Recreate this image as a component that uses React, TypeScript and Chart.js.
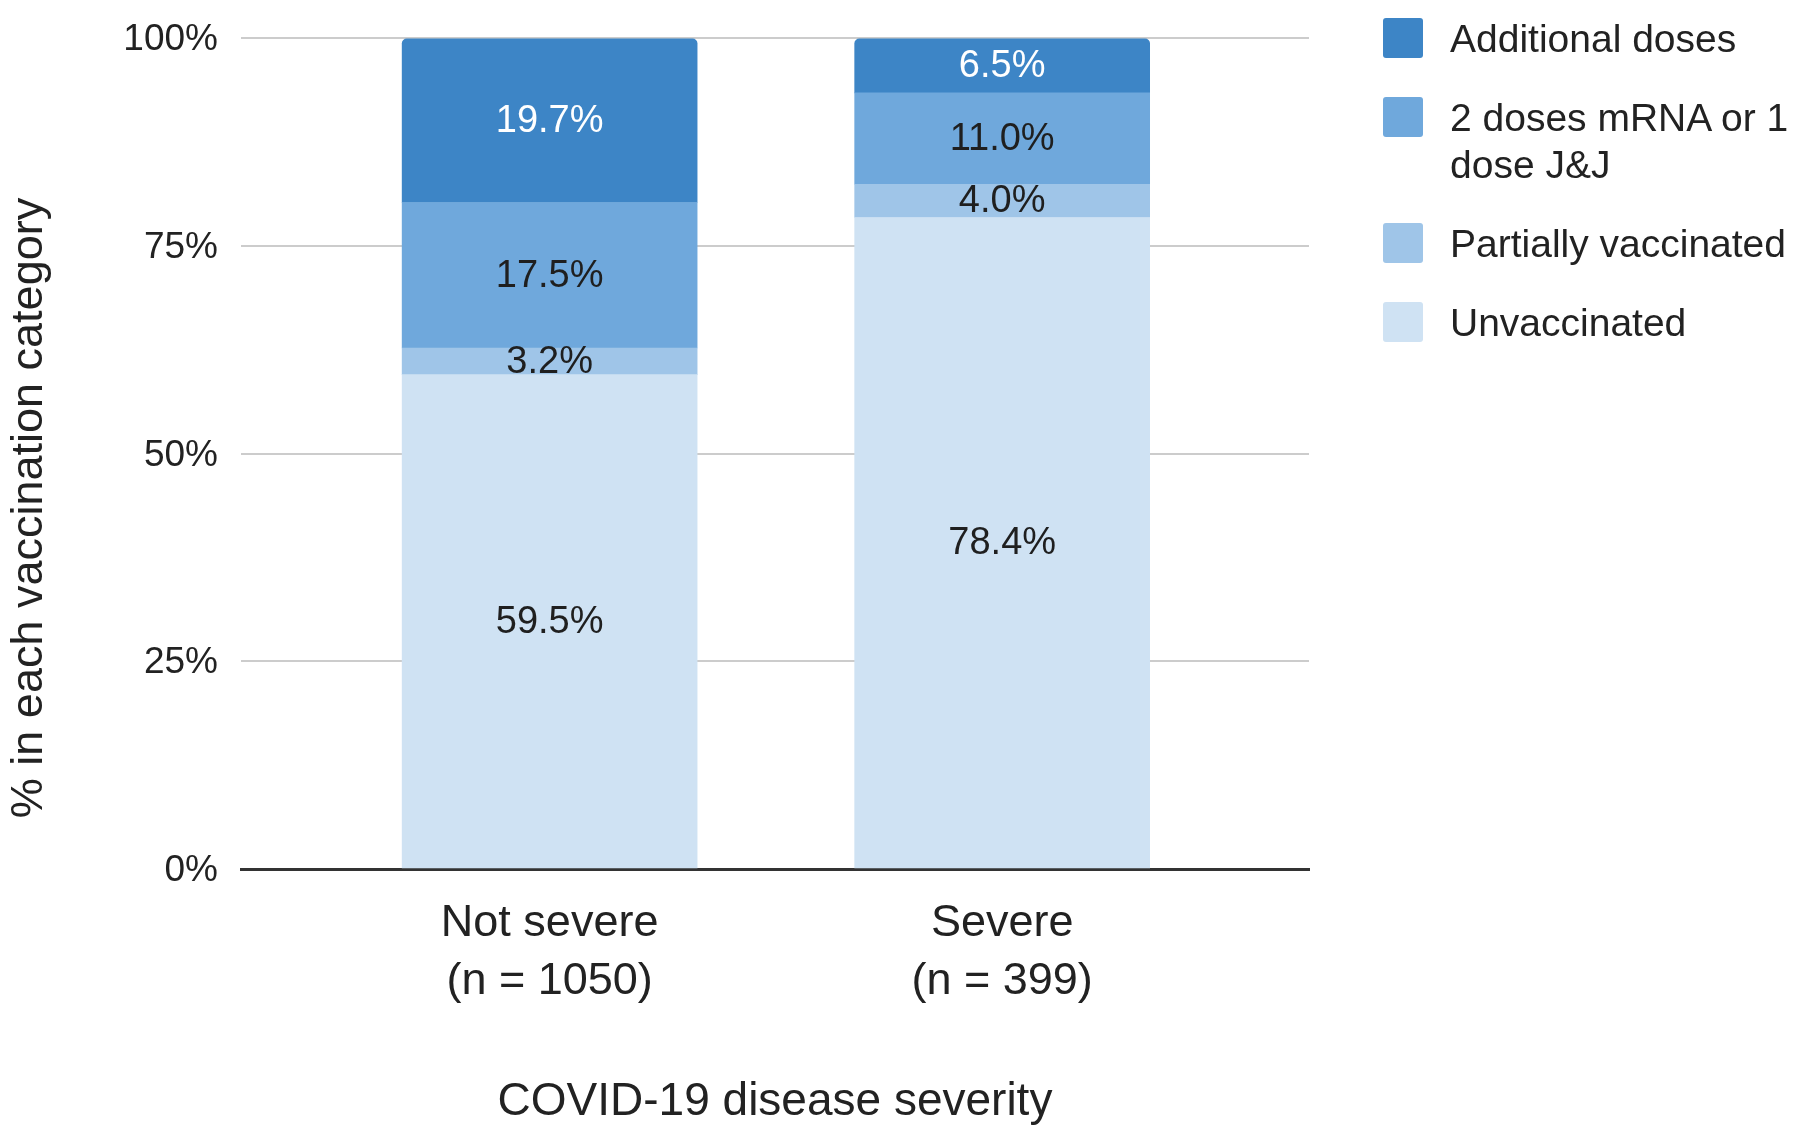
import React, { useEffect, useRef } from "react";
import { Chart, registerables } from "chart.js";

Chart.register(...registerables);

// ---- Data ----
const categories = ["Not severe", "Severe"];
const sampleSizes = ["(n = 1050)", "(n = 399)"];
const seriesNames = [
  "Unvaccinated",
  "Partially vaccinated",
  "2 doses mRNA or 1 dose J&J",
  "Additional doses",
];
const unvaccinated = [59.5, 78.4];
const partiallyVaccinated = [3.2, 4.0];
const twoDoses = [17.5, 11.0];
const additionalDoses = [19.7, 6.5];
const yTicks = [0, 25, 50, 75, 100];
const yAxisTitle = "% in each vaccination category";
const xAxisTitle = "COVID-19 disease severity";

// ---- Styles ----
const seriesColors = ["#cfe2f3", "#9fc5e8", "#6fa8dc", "#3d85c6"];
const labelColors = ["#1f1f1f", "#1f1f1f", "#1f1f1f", "#ffffff"];
const FONT = '"Liberation Sans", Arial, Helvetica, sans-serif';
const TEXT = "#222222";

const seriesValues = [unvaccinated, partiallyVaccinated, twoDoses, additionalDoses];

const barLabelsPlugin = {
  id: "barLabels",
  afterDatasetsDraw(chart: any) {
    const ctx = chart.ctx;
    ctx.save();
    ctx.font = `38px ${FONT}`;
    ctx.textAlign = "center";
    ctx.textBaseline = "middle";
    chart.data.datasets.forEach((_ds: any, di: number) => {
      const meta = chart.getDatasetMeta(di);
      meta.data.forEach((el: any, i: number) => {
        const v = seriesValues[di][i];
        const { x, y, base } = el.getProps(["x", "y", "base"], true);
        ctx.fillStyle = labelColors[di];
        ctx.fillText(v.toFixed(1) + "%", x, (y + base) / 2 + 1);
      });
    });
    ctx.restore();
  },
};

const yTitlePlugin = {
  id: "yTitle",
  afterDraw(chart: any) {
    const ctx = chart.ctx;
    ctx.save();
    ctx.translate(42, 508);
    ctx.rotate(-Math.PI / 2);
    ctx.font = `45px ${FONT}`;
    ctx.fillStyle = TEXT;
    ctx.textAlign = "center";
    ctx.textBaseline = "alphabetic";
    ctx.fillText(yAxisTitle, 0, 0);
    ctx.restore();
  },
};

export default function App() {
  const canvasRef = useRef<HTMLCanvasElement | null>(null);

  useEffect(() => {
    if (!canvasRef.current) return;
    const chart = new Chart(canvasRef.current, {
      type: "bar",
      data: {
        datasets: seriesValues.map((vals, di) => ({
          label: seriesNames[di],
          data: vals.map((v, i) => ({ x: i, y: v })),
          backgroundColor: seriesColors[di],
          borderWidth: 0,
          stack: "s",
          barThickness: 295,
          borderRadius:
            di === seriesValues.length - 1
              ? { topLeft: 5, topRight: 5, bottomLeft: 0, bottomRight: 0 }
              : 0,
          borderSkipped: false,
        })),
      },
      options: {
        responsive: false,
        animation: false,
        layout: { padding: { left: 0, right: 491, top: 38, bottom: 0 } },
        plugins: {
          legend: { display: false },
          tooltip: { enabled: false },
        },
        scales: {
          x: {
            type: "linear",
            min: -0.682,
            max: 1.678,
            offset: false,
            z: 1,
            grid: { display: false, drawTicks: false },
            border: { display: true, color: "#333333", width: 3 },
            afterBuildTicks: (s: any) => {
              s.ticks = categories.map((_c, i) => ({ value: i }));
            },
            afterFit: (s: any) => {
              s.height = 264;
            },
            ticks: {
              callback: (v: any) => [categories[v], sampleSizes[v]],
              padding: 25,
              font: { family: FONT, size: 45, lineHeight: 1.3 },
              color: TEXT,
              maxRotation: 0,
              minRotation: 0,
              autoSkip: false,
            },
            title: {
              display: true,
              text: xAxisTitle,
              font: { family: FONT, size: 46, lineHeight: 1.2 },
              color: TEXT,
              padding: { top: 0, bottom: 3 },
            },
          },
          y: {
            min: 0,
            max: 100,
            stacked: true,
            afterBuildTicks: (s: any) => {
              s.ticks = yTicks.map((v) => ({ value: v }));
            },
            afterFit: (s: any) => {
              s.width = 241;
              s.paddingTop = 0;
              s.paddingBottom = 0;
            },
            ticks: {
              callback: (v: any) => v + "%",
              padding: 23,
              labelOffset: 2,
              font: { family: FONT, size: 37 },
              color: TEXT,
            },
            grid: { color: "#cccccc", lineWidth: 2, drawTicks: false },
            border: { display: false },
          },
        },
      } as any,
      plugins: [barLabelsPlugin, yTitlePlugin],
    });
    return () => chart.destroy();
  }, []);

  const legendOrder = seriesNames.map((_n, i) => i).reverse();

  return (
    <div
      style={{
        position: "absolute",
        left: 0,
        top: 0,
        width: 1800,
        height: 1133,
        background: "#ffffff",
        overflow: "hidden",
      }}
    >
      <canvas
        ref={canvasRef}
        width={1800}
        height={1133}
        style={{ display: "block" }}
      />
      <div
        style={{
          position: "absolute",
          left: 1383,
          top: 14.5,
          fontFamily: FONT,
          fontSize: 39,
          lineHeight: "47px",
          color: TEXT,
        }}
      >
        {legendOrder.map((di) => (
          <div
            key={di}
            style={{ display: "flex", alignItems: "flex-start", marginBottom: 32 }}
          >
            <div
              style={{
                width: 40,
                height: 40,
                borderRadius: 3,
                background: seriesColors[di],
                marginTop: 3.5,
                marginRight: 27,
                flexShrink: 0,
              }}
            />
            <div style={{ width: 352 }}>{seriesNames[di]}</div>
          </div>
        ))}
      </div>
    </div>
  );
}
